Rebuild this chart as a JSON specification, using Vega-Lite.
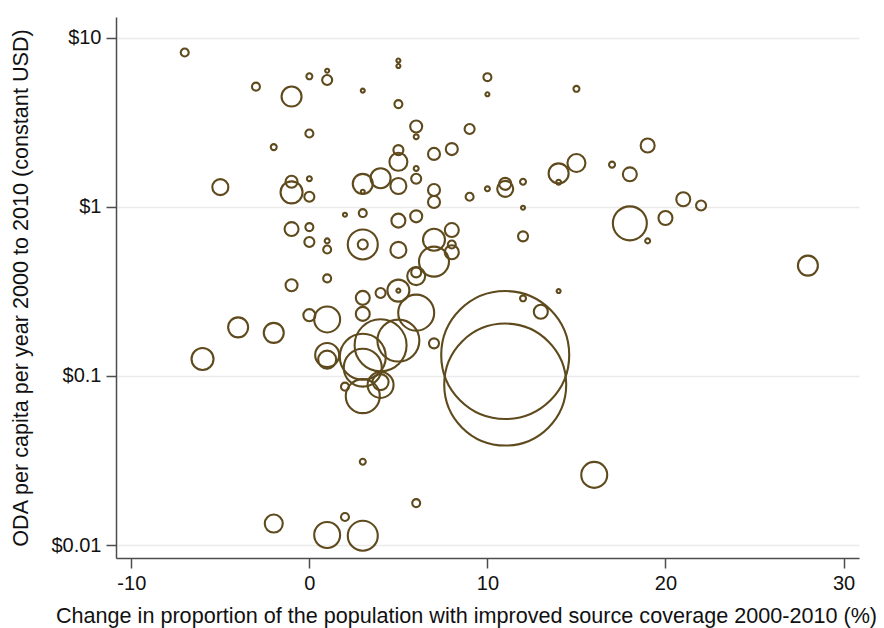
{
  "$schema": "https://vega.github.io/schema/vega-lite/v6.json",
  "width": 743,
  "height": 541,
  "autosize": "none",
  "padding": {"left": 116, "top": 17, "right": 25, "bottom": 70},
  "background": "white",
  "data": {
    "values": [
      {"change": -7, "oda": 8.2, "pop": 5.2},
      {"change": -3, "oda": 5.15, "pop": 5.2},
      {"change": -1, "oda": 4.5, "pop": 32.7},
      {"change": 0, "oda": 5.93, "pop": 2.9},
      {"change": 1, "oda": 6.4, "pop": 1.3},
      {"change": 1, "oda": 5.64, "pop": 8.2},
      {"change": 3, "oda": 4.88, "pop": 1.3},
      {"change": 5, "oda": 7.35, "pop": 1.3},
      {"change": 5, "oda": 6.82, "pop": 1.3},
      {"change": 5, "oda": 4.06, "pop": 5.2},
      {"change": 6, "oda": 2.99, "pop": 11.8},
      {"change": 6, "oda": 2.6, "pop": 2.0},
      {"change": 9, "oda": 2.89, "pop": 8.2},
      {"change": 0, "oda": 2.72, "pop": 5.2},
      {"change": -2, "oda": 2.26, "pop": 2.9},
      {"change": 5, "oda": 2.17, "pop": 8.2},
      {"change": 5, "oda": 1.85, "pop": 26.5},
      {"change": 6, "oda": 1.69, "pop": 2.0},
      {"change": 6, "oda": 1.47, "pop": 8.2},
      {"change": 7, "oda": 2.06, "pop": 11.8},
      {"change": 8, "oda": 2.2, "pop": 11.8},
      {"change": -5, "oda": 1.31, "pop": 21},
      {"change": -1, "oda": 1.41, "pop": 11.8},
      {"change": -1, "oda": 1.22, "pop": 39.6},
      {"change": 0, "oda": 1.47, "pop": 2.0},
      {"change": 0, "oda": 1.15, "pop": 8.2},
      {"change": 3, "oda": 1.37, "pop": 32.7},
      {"change": 3, "oda": 1.23, "pop": 1.3},
      {"change": 4, "oda": 1.48, "pop": 32.7},
      {"change": 5, "oda": 1.33, "pop": 21},
      {"change": 7, "oda": 1.26, "pop": 11.8},
      {"change": 7, "oda": 1.07, "pop": 11.8},
      {"change": 9, "oda": 1.15, "pop": 5.2},
      {"change": 2, "oda": 0.9, "pop": 1.3},
      {"change": 3, "oda": 0.92, "pop": 5.2},
      {"change": 10, "oda": 5.86, "pop": 5.2},
      {"change": 10, "oda": 4.64, "pop": 1.3},
      {"change": 15, "oda": 5.0, "pop": 2.9},
      {"change": 19, "oda": 2.31, "pop": 16},
      {"change": 15, "oda": 1.82, "pop": 26.5},
      {"change": 14, "oda": 1.58, "pop": 32.7},
      {"change": 14, "oda": 1.4, "pop": 2.0},
      {"change": 17, "oda": 1.78, "pop": 2.9},
      {"change": 18, "oda": 1.56, "pop": 16},
      {"change": 10, "oda": 1.28, "pop": 2.0},
      {"change": 11, "oda": 1.37, "pop": 11.8},
      {"change": 11, "oda": 1.28, "pop": 21},
      {"change": 12, "oda": 1.41, "pop": 2.9},
      {"change": 12, "oda": 0.99, "pop": 1.3},
      {"change": 12, "oda": 0.67, "pop": 8.2},
      {"change": 18, "oda": 0.8, "pop": 94.5},
      {"change": 19, "oda": 0.63, "pop": 2.0},
      {"change": 20, "oda": 0.86, "pop": 16},
      {"change": 21, "oda": 1.11, "pop": 16},
      {"change": 22, "oda": 1.02, "pop": 8.2},
      {"change": 28, "oda": 0.45, "pop": 32.7},
      {"change": -1, "oda": 0.74, "pop": 16},
      {"change": 0, "oda": 0.76, "pop": 5.2},
      {"change": 0, "oda": 0.62, "pop": 8.2},
      {"change": 1, "oda": 0.63, "pop": 2.0},
      {"change": 1, "oda": 0.56, "pop": 5.2},
      {"change": 3, "oda": 0.6, "pop": 73.6},
      {"change": 3, "oda": 0.6, "pop": 8.2},
      {"change": 5, "oda": 0.83, "pop": 16},
      {"change": 6, "oda": 0.88, "pop": 11.8},
      {"change": 5, "oda": 0.557, "pop": 21},
      {"change": 7, "oda": 0.64, "pop": 39.6},
      {"change": 8, "oda": 0.73, "pop": 16},
      {"change": 8, "oda": 0.6, "pop": 5.2},
      {"change": 8, "oda": 0.54, "pop": 16},
      {"change": 7, "oda": 0.475, "pop": 73.6},
      {"change": 6, "oda": 0.41, "pop": 8.2},
      {"change": 6, "oda": 0.39, "pop": 26.5},
      {"change": -1, "oda": 0.344, "pop": 11.8},
      {"change": 1, "oda": 0.378, "pop": 5.2},
      {"change": 5, "oda": 0.32, "pop": 39.6},
      {"change": 5, "oda": 0.32, "pop": 1.3},
      {"change": 4, "oda": 0.31, "pop": 8.2},
      {"change": 3, "oda": 0.29, "pop": 16},
      {"change": 3, "oda": 0.233, "pop": 16},
      {"change": 6, "oda": 0.237, "pop": 106},
      {"change": 0, "oda": 0.229, "pop": 11.8},
      {"change": 1, "oda": 0.216, "pop": 55},
      {"change": -4, "oda": 0.194, "pop": 32.7},
      {"change": -2, "oda": 0.18, "pop": 32.7},
      {"change": -6, "oda": 0.126, "pop": 39.6},
      {"change": 7, "oda": 0.156, "pop": 8.2},
      {"change": 11, "oda": 0.133, "pop": 1340},
      {"change": 11, "oda": 0.089, "pop": 1217},
      {"change": 12, "oda": 0.288, "pop": 2.9},
      {"change": 13, "oda": 0.24, "pop": 16},
      {"change": 14, "oda": 0.318, "pop": 1.3},
      {"change": 1, "oda": 0.133, "pop": 47},
      {"change": 1, "oda": 0.125, "pop": 26.5},
      {"change": 4, "oda": 0.152, "pop": 221},
      {"change": 5, "oda": 0.162, "pop": 144},
      {"change": 3, "oda": 0.112, "pop": 118},
      {"change": 3, "oda": 0.076, "pop": 94.5},
      {"change": 4, "oda": 0.092, "pop": 21},
      {"change": 4, "oda": 0.0885, "pop": 55},
      {"change": 2, "oda": 0.0865, "pop": 5.2},
      {"change": 3, "oda": 0.13, "pop": 173},
      {"change": -2, "oda": 0.0134, "pop": 26.5},
      {"change": 1, "oda": 0.01146, "pop": 55},
      {"change": 2, "oda": 0.01466, "pop": 5.2},
      {"change": 3, "oda": 0.01135, "pop": 73.6},
      {"change": 3, "oda": 0.0311, "pop": 2.9},
      {"change": 6, "oda": 0.0177, "pop": 5.2},
      {"change": 16, "oda": 0.026, "pop": 55}
    ]
  },
  "mark": {"type": "point", "shape": "circle", "filled": false, "color": "#5e4a1c", "strokeWidth": 2.1, "opacity": 1},
  "encoding": {
    "x": {
      "field": "change",
      "type": "quantitative",
      "scale": {"domain": [-10.86, 30.87], "nice": false, "zero": false},
      "axis": {
        "values": [-10, 0, 10, 20, 30],
        "labelExpr": "'' + datum.value",
        "grid": false,
        "title": "Change in proportion of the population with improved source coverage 2000-2010 (%)",
        "titleX": 350,
        "titleY": 64,
        "titleAnchor": null,
        "titleAlign": "center",
        "titleBaseline": "alphabetic",
        "labelBaseline": "alphabetic",
        "labelPadding": 21
      }
    },
    "y": {
      "field": "oda",
      "type": "quantitative",
      "scale": {"type": "log", "domain": [0.00838, 13.3], "nice": false},
      "axis": {
        "values": [0.01, 0.1, 1, 10],
        "labelExpr": "'$' + format(datum.value, '~g')",
        "grid": true,
        "gridColor": "#ebebeb",
        "gridWidth": 1.5,
        "title": "ODA per capita per year 2000 to 2010 (constant USD)",
        "titleX": -95,
        "titleBaseline": "middle",
        "labelPadding": 5
      }
    },
    "size": {
      "field": "pop",
      "type": "quantitative",
      "scale": {"domain": [0, 1340], "range": [0, 16384], "zero": true},
      "legend": null
    }
  },
  "config": {
    "view": {"stroke": null},
    "font": "Liberation Sans",
    "axis": {
      "domainColor": "#4d4d4d",
      "domainWidth": 1.5,
      "tickColor": "#4d4d4d",
      "tickWidth": 1.5,
      "tickSize": 10,
      "labelFontSize": 20,
      "labelColor": "#111111",
      "titleFontSize": 21.6,
      "titleFontWeight": "normal",
      "titleColor": "#111111"
    }
  }
}
